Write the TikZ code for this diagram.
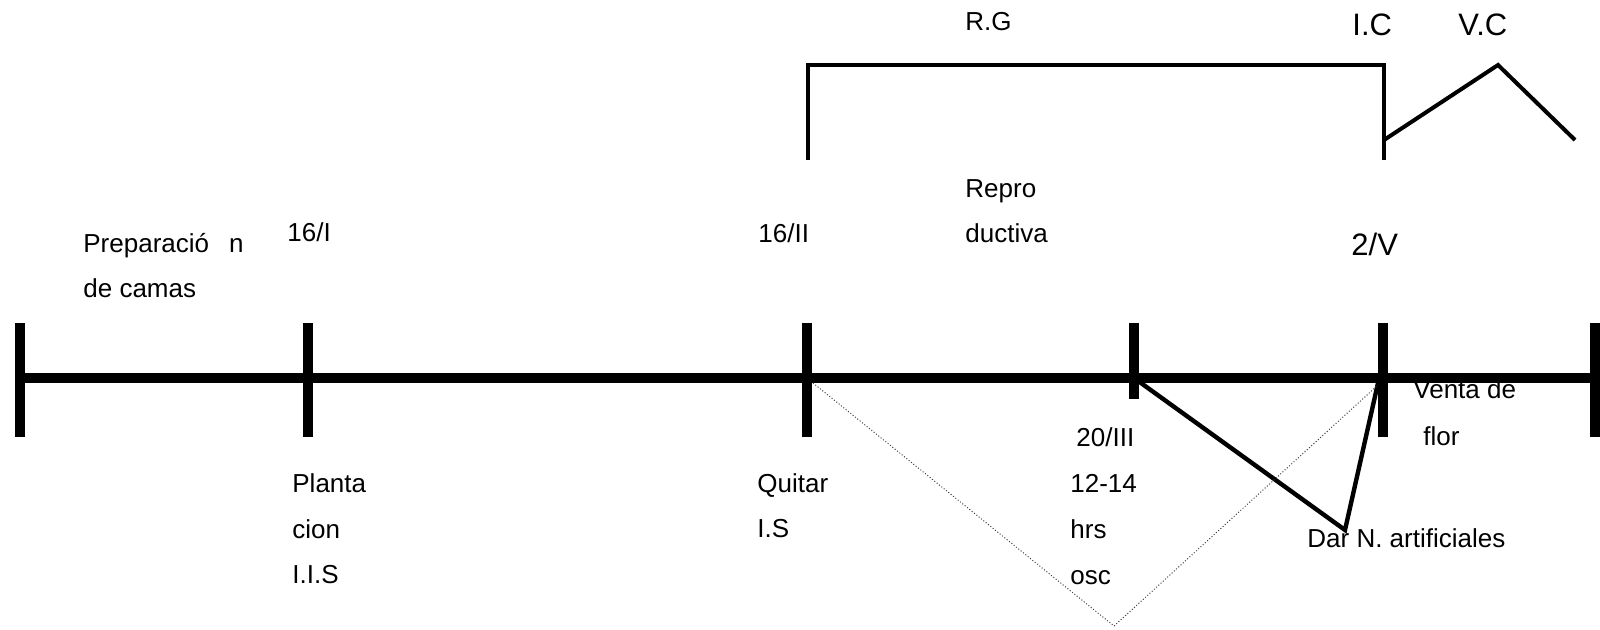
\documentclass[tikz,border=0pt]{standalone}
\usepackage{fontspec}
\setmainfont{Liberation Sans}
\usetikzlibrary{calc}
\begin{document}
\begin{tikzpicture}[x=0.5pt,y=-0.5pt,
  lbl/.style={anchor=base west, inner sep=0pt, font=\fontsize{13}{15}\selectfont},
  big/.style={lbl, font=\fontsize{15.5}{18}\selectfont},
  axisline/.style={line width=5pt},
  tickmark/.style={line width=5pt},
  bracketline/.style={line width=2pt, line join=miter},
  link/.style={line width=2.2pt, line join=miter},
  faint/.style={line width=0.5pt, densely dotted, black!75}]
\useasboundingbox (0,0) rectangle (1600,630);

% labels above the time line
\node[lbl] (prep1) at (83,253) {Preparació\hspace{10pt}n};
\node[lbl] (prep2) at (83,298) {de camas};
\node[lbl] (d1) at (287,242) {16/I};
\node[lbl] (d2) at (758,243) {16/II};
\node[lbl] (rep1) at (965,198) {Repro};
\node[lbl] (rep2) at (965,243) {ductiva};
\node[big] (d4) at (1351,256) {2/V};
\node[lbl] (rg) at (965,31) {R.G};
\node[big] (ic) at (1352,36) {I.C};
\node[big] (vc) at (1458,36) {V.C};

% labels below the time line
\node[lbl] (pl1) at (292,492) {Planta};
\node[lbl] (pl2) at (292,538) {cion};
\node[lbl] (pl3) at (292,583) {I.I.S};
\node[lbl] (qu1) at (757,492) {Quitar};
\node[lbl] (qu2) at (757,537) {I.S};
\node[lbl] (d3) at (1076,446) {20/III};
\node[lbl] (os1) at (1070,492) {12-14};
\node[lbl] (os2) at (1070,538) {hrs};
\node[lbl] (os3) at (1070,584) {osc};
\node[lbl] (ve1) at (1413,399) {Venta de};
\node[lbl] (ve2) at (1423,445) {flor};
\node[lbl] (dar) at (1307,547) {Dar N. artificiales};

% tick positions on the time line
\coordinate (t0) at (20,378);
\coordinate (t1) at (308,378);
\coordinate (t2) at (807,378);
\coordinate (t3) at (1134,378);
\coordinate (t4) at (1383,378);
\coordinate (t5) at (1595,378);

% main time line and its ticks
\draw[axisline] (t0) -- (t5);
\foreach \t in {t0,t1,t2,t4,t5}
  \draw[tickmark] ($(\t)+(0,-55)$) -- ($(\t)+(0,59)$);
\draw[tickmark] ($(t3)+(0,-55)$) -- ($(t3)+(0,21)$);

% R.G bracket and I.C / V.C zigzag
\coordinate (bl) at (808,160);
\coordinate (br) at (1384,160);
\coordinate (zs) at (1384,140);
\coordinate (zp) at (1498,65);
\coordinate (ze) at (1575,140);
\draw[bracketline] (bl) -- (808,65) -- (1384,65) -- (br);
\draw[bracketline] (zs) -- (zp) -- (ze);

% artificial night link
\coordinate (nv) at (1345,530);
\draw[link] (t3) -- (nv) -- ($(t4)+(-5,5)$);

% dark period
\coordinate (dv) at (1114,626);
\draw[faint] ($(t2)+(6,5)$) -- (dv) -- ($(t4)+(-5,7)$);
\end{tikzpicture}
\end{document}
